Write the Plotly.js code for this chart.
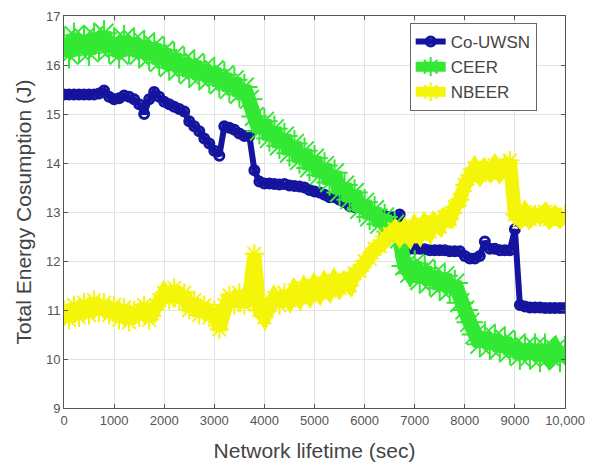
<!DOCTYPE html>
<html>
<head>
<meta charset="utf-8">
<script src="https://cdn.plot.ly/plotly-3.0.1.min.js"></script>
<style>
html,body{margin:0;padding:0;background:#fff;}
#chart{width:592px;height:463px;}
</style>
</head>
<body>
<div id="chart"></div>
<script>
// Network lifetime (sec), sampled every 100 s
const lifetime = [0,100,200,300,400,500,600,700,800,900,
  1000,1100,1200,1300,1400,1500,1600,1700,1800,1900,
  2000,2100,2200,2300,2400,2500,2600,2700,2800,2900,
  3000,3100,3200,3300,3400,3500,3600,3700,3800,3900,
  4000,4100,4200,4300,4400,4500,4600,4700,4800,4900,
  5000,5100,5200,5300,5400,5500,5600,5700,5800,5900,
  6000,6100,6200,6300,6400,6500,6600,6700,6800,6900,
  7000,7100,7200,7300,7400,7500,7600,7700,7800,7900,
  8000,8100,8200,8300,8400,8500,8600,8700,8800,8900,
  9000,9100,9200,9300,9400,9500,9600,9700,9800,9900,10000];

const coUWSN = [15.4,15.4,15.4,15.4,15.4,15.4,15.4,15.42,15.48,15.35,
  15.3,15.32,15.38,15.35,15.3,15.2,15.0,15.3,15.45,15.35,
  15.25,15.2,15.15,15.1,15.05,14.85,14.75,14.65,14.5,14.4,
  14.25,14.15,14.75,14.72,14.68,14.6,14.55,14.55,13.85,13.62,
  13.58,13.58,13.57,13.56,13.57,13.54,13.53,13.52,13.5,13.45,
  13.42,13.4,13.35,13.3,13.3,13.25,13.2,13.12,13.1,13.1,
  13.05,13.0,12.98,12.95,12.92,12.9,12.9,12.95,12.25,12.25,
  12.25,12.25,12.24,12.22,12.22,12.22,12.22,12.2,12.2,12.2,
  12.1,12.05,12.05,12.1,12.4,12.25,12.25,12.22,12.22,12.22,
  12.65,11.1,11.07,11.05,11.05,11.05,11.04,11.04,11.04,11.04,11.04];

const ceer = [16.5,16.2,16.6,16.3,16.55,16.25,16.6,16.35,16.65,16.3,
  16.5,16.2,16.55,16.3,16.5,16.2,16.45,16.15,16.4,16.05,
  16.3,15.95,16.2,15.9,16.1,15.8,16.05,15.75,15.95,15.7,
  15.9,15.6,15.8,15.5,15.7,15.4,15.55,15.3,14.95,14.65,
  14.85,14.5,14.7,14.35,14.55,14.2,14.4,14.05,14.25,13.9,
  14.1,13.75,13.95,13.6,13.8,13.4,13.55,13.25,13.4,13.05,
  13.2,12.9,13.05,12.75,12.9,12.6,12.75,12.45,11.9,11.75,
  11.95,11.6,11.85,11.55,11.75,11.45,11.7,11.4,11.55,11.15,
  11.0,10.75,10.5,10.3,10.5,10.25,10.45,10.2,10.4,10.15,
  10.3,10.05,10.25,10.05,10.25,10.0,10.25,10.05,10.2,10.0,10.2];

const nbeer = [11.0,10.8,11.1,10.85,11.15,10.9,11.2,10.95,11.15,10.9,
  11.1,10.8,11.05,10.75,11.0,10.85,11.1,10.8,11.0,11.2,
  11.35,11.2,11.45,11.2,11.35,11.0,11.2,10.9,11.1,10.85,
  11.0,10.6,11.1,11.3,11.1,11.35,11.1,11.3,12.15,11.0,
  10.85,11.1,11.25,11.1,11.35,11.2,11.4,11.25,11.45,11.3,
  11.5,11.35,11.55,11.4,11.6,11.45,11.6,11.5,11.75,11.8,
  12.0,12.05,12.25,12.3,12.5,12.55,12.65,12.5,12.65,12.5,
  12.7,12.55,12.75,12.6,12.8,12.7,12.9,12.85,13.1,13.25,
  13.55,13.75,13.9,13.75,13.9,13.8,13.95,13.8,13.95,14.05,
  12.95,12.85,13.0,12.85,12.95,12.9,13.0,12.85,12.95,12.85,12.95];

const xTickVals = [0,1000,2000,3000,4000,5000,6000,7000,8000,9000,10000];
const xTickText = ['0','1000','2000','3000','4000','5000','6000','7000','8000','9000','10,000'];
const yTickVals = [9,10,11,12,13,14,15,16,17];

const FONT = 'Liberation Sans, Arial, sans-serif';
const BLUE = '#14149e', GREEN = '#33e833', YELLOW = '#f5f50a';

const traces = [
  {
    x: lifetime, y: coUWSN, name: 'Co-UWSN', type: 'scatter', mode: 'lines+markers',
    line: {color: BLUE, width: 6},
    marker: {symbol: 'circle-open', size: 9, color: BLUE, line: {width: 3, color: BLUE}}
  },
  {
    x: lifetime, y: ceer, name: 'CEER', type: 'scatter', mode: 'lines+markers',
    line: {color: GREEN, width: 15},
    marker: {symbol: 'asterisk-open', size: 22, color: GREEN, line: {width: 2, color: GREEN}}
  },
  {
    x: lifetime, y: nbeer, name: 'NBEER', type: 'scatter', mode: 'lines+markers',
    line: {color: YELLOW, width: 14},
    marker: {symbol: 'asterisk-open', size: 16, color: YELLOW, line: {width: 2, color: YELLOW}}
  }
];

const axisCommon = {
  showline: true, linecolor: '#555', linewidth: 1, mirror: 'ticks',
  ticks: 'inside', ticklen: 4, tickcolor: '#555',
  showgrid: true, gridcolor: '#e3e3e3', gridwidth: 1,
  zeroline: false,
  tickfont: {family: FONT, size: 13, color: '#555'}
};

const layout = {
  width: 592, height: 463,
  margin: {l: 64, r: 27, t: 16, b: 55},
  paper_bgcolor: '#fff', plot_bgcolor: '#fff',
  font: {family: FONT, color: '#444'},
  showlegend: true,
  legend: {
    x: 0.69, y: 0.982, xanchor: 'left', yanchor: 'top',
    bgcolor: '#fff', bordercolor: '#666', borderwidth: 1,
    font: {family: FONT, size: 17, color: '#444'}
  },
  xaxis: Object.assign({}, axisCommon, {
    range: [0, 10000], tickmode: 'array', tickvals: xTickVals, ticktext: xTickText,
    title: {text: 'Network lifetime (sec)', font: {family: FONT, size: 21, color: '#444'}, standoff: 16}
  }),
  yaxis: Object.assign({}, axisCommon, {
    range: [9, 17], tickmode: 'array', tickvals: yTickVals,
    title: {text: 'Total Energy Cosumption (J)', font: {family: FONT, size: 21, color: '#444'}, standoff: 8}
  })
};

Plotly.newPlot('chart', traces, layout, {displayModeBar: false, staticPlot: true});
</script>
</body>
</html>
